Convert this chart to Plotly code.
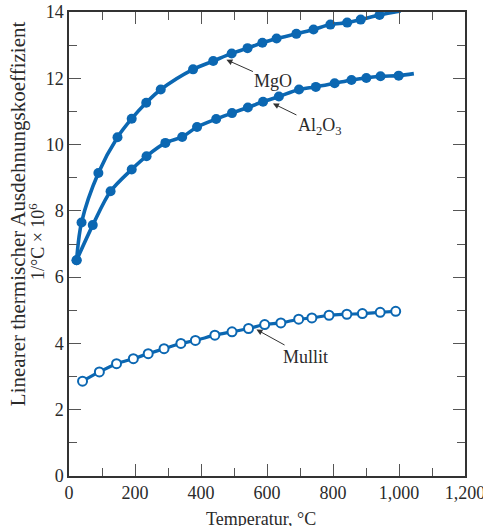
import plotly.graph_objects as go

# ---- data ----
mgo_x = [23, 38, 89, 147, 190, 234, 278, 376, 437, 493, 541, 586, 629, 689, 741, 792, 843, 884, 941]
mgo_y = [6.51, 7.65, 9.14, 10.22, 10.78, 11.26, 11.66, 12.27, 12.52, 12.75, 12.91, 13.07, 13.2, 13.34, 13.47, 13.62, 13.68, 13.77, 13.91]
mgo_curve_end = (1005, 14.03)

al2o3_x = [23, 72, 126, 190, 235, 292, 343, 388, 446, 494, 542, 588, 636, 697, 748, 805, 856, 901, 944, 999]
al2o3_y = [6.51, 7.57, 8.59, 9.25, 9.65, 10.05, 10.23, 10.53, 10.77, 10.95, 11.12, 11.29, 11.45, 11.66, 11.74, 11.85, 11.95, 12.01, 12.06, 12.08]
al2o3_curve_end = (1045, 12.14)

mullit_x = [41, 92, 144, 195, 240, 288, 339, 383, 442, 494, 544, 593, 642, 696, 736, 788, 842, 889, 943, 990]
mullit_y = [2.86, 3.14, 3.39, 3.54, 3.69, 3.84, 4.0, 4.09, 4.25, 4.35, 4.45, 4.57, 4.62, 4.73, 4.77, 4.85, 4.88, 4.9, 4.94, 4.97]

x_ticks = [0, 200, 400, 600, 800, 1000, 1200]
x_tick_labels = ["0", "200", "400", "600", "800", "1,000", "1,200"]
y_ticks = [0, 2, 4, 6, 8, 10, 12, 14]

labels = ["MgO", "Al<sub>2</sub>O<sub>3</sub>", "Mullit"]
label_heads = [(477, 12.56), (618, 11.24), (568, 4.42)]

BLUE = "#0b67b2"
TXT = "#2a2a2a"
FONT = "Liberation Serif"

fig = go.Figure()

# curves
fig.add_trace(go.Scatter(x=mgo_x + [mgo_curve_end[0]], y=mgo_y + [mgo_curve_end[1]],
                         mode="lines", line=dict(color=BLUE, width=3.6, shape="spline", smoothing=0.9),
                         hoverinfo="skip", showlegend=False))
fig.add_trace(go.Scatter(x=al2o3_x + [al2o3_curve_end[0]], y=al2o3_y + [al2o3_curve_end[1]],
                         mode="lines", line=dict(color=BLUE, width=3.6, shape="spline", smoothing=0.9),
                         hoverinfo="skip", showlegend=False))
fig.add_trace(go.Scatter(x=mullit_x, y=mullit_y,
                         mode="lines", line=dict(color=BLUE, width=3.2, shape="spline", smoothing=0.9),
                         hoverinfo="skip", showlegend=False))
# markers
fig.add_trace(go.Scatter(x=mgo_x, y=mgo_y, mode="markers", name="MgO",
                         marker=dict(color=BLUE, size=10, line=dict(width=0)), showlegend=False, cliponaxis=False))
fig.add_trace(go.Scatter(x=al2o3_x, y=al2o3_y, mode="markers", name="Al2O3",
                         marker=dict(color=BLUE, size=10, line=dict(width=0)), showlegend=False, cliponaxis=False))
fig.add_trace(go.Scatter(x=mullit_x, y=mullit_y, mode="markers", name="Mullit",
                         marker=dict(color="white", size=9, line=dict(color=BLUE, width=2)), showlegend=False))

offsets = [(47, 21), (47, 23), (49, 27)]
for lab, (hx, hy), (ax, ay) in zip(labels, label_heads, offsets):
    fig.add_annotation(x=hx, y=hy, xref="x", yref="y", text=lab, showarrow=True,
                       ax=ax, ay=ay, axref="pixel", ayref="pixel",
                       arrowhead=2, arrowsize=1.2, arrowwidth=1, arrowcolor="#333",
                       font=dict(family=FONT, size=18, color=TXT))

# axis titles as annotations
fig.add_annotation(text="Linearer thermischer Ausdehnungskoeffizient", textangle=-90,
                   xref="paper", yref="paper", x=-0.128, y=0.565, xanchor="center", yanchor="middle",
                   showarrow=False, font=dict(family=FONT, size=21, color=TXT))
fig.add_annotation(text="1/°C × 10<sup>6</sup>", textangle=-90,
                   xref="paper", yref="paper", x=-0.08, y=0.505, xanchor="center", yanchor="middle",
                   showarrow=False, font=dict(family=FONT, size=18, color=TXT))
fig.add_annotation(text="Temperatur, °C", xref="paper", yref="paper", x=0.484, y=-0.092,
                   xanchor="center", yanchor="middle", showarrow=False,
                   font=dict(family=FONT, size=18, color=TXT))

axis_common = dict(showgrid=False, zeroline=False, showline=True, linecolor="#333", linewidth=1.5,
                   mirror="ticks", ticks="inside", ticklen=12, tickwidth=1, tickcolor="#555",
                   automargin=False, ticklabeloverflow="allow",
                   tickfont=dict(family=FONT, size=18, color=TXT))
fig.update_xaxes(range=[0, 1200], tickvals=x_ticks, ticktext=x_tick_labels,
                 minor=dict(dtick=100, tick0=0, ticks="inside", ticklen=8, tickcolor="#555"),
                 **axis_common)
fig.update_yaxes(range=[0, 14], tickvals=y_ticks,
                 minor=dict(dtick=1, tick0=0, ticks="inside", ticklen=8, tickcolor="#555"),
                 **axis_common)

fig.update_layout(width=483, height=526, margin=dict(l=69, r=17.5, t=12, b=50),
                  plot_bgcolor="white", paper_bgcolor="white", showlegend=False)

# remove the default page margin so the figure fills the window exactly; hide the mode bar
fig.write_html("out.html", config={"displayModeBar": False},
               post_script="document.body.style.margin='0';")
